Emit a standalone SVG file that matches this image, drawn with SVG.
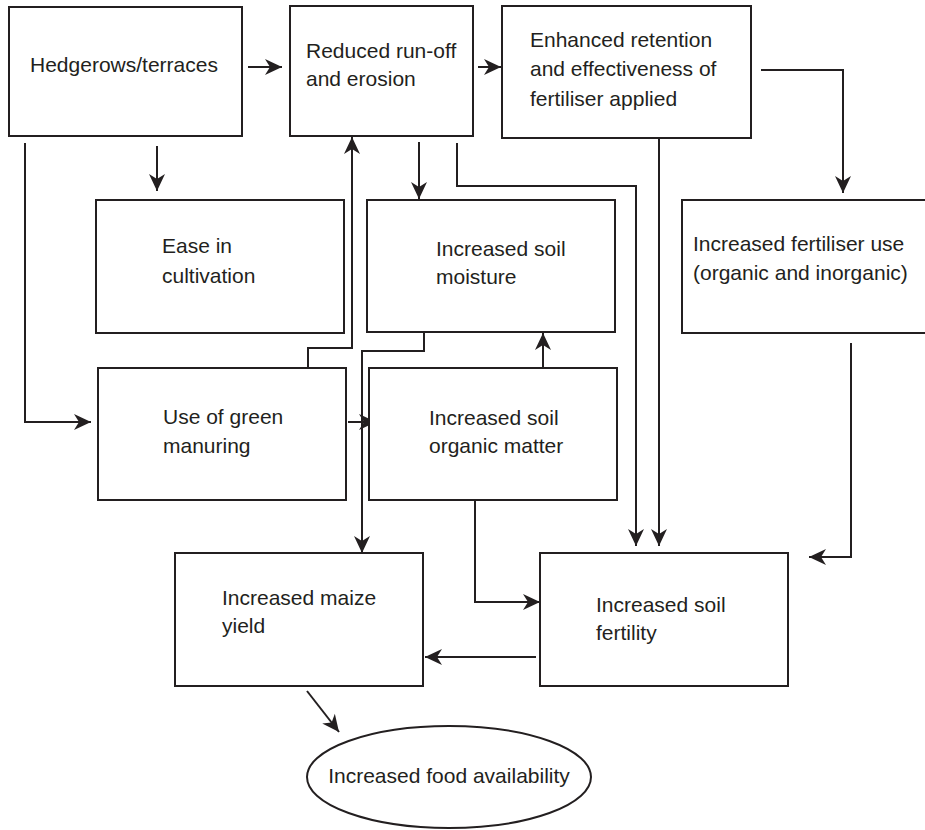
<svg xmlns="http://www.w3.org/2000/svg" width="925" height="830" viewBox="0 0 925 830">
  <style>
    .box { fill: #ffffff; stroke: #231f20; stroke-width: 2; }
    .lbl { font-family: "Liberation Sans", Arial, sans-serif; font-size: 21px; fill: #231f20; }
    .con { fill: none; stroke: #231f20; stroke-width: 2; }
  </style>
  <defs>
    <!-- barbed arrowhead, tip at the end of the line -->
    <marker id="ah" viewBox="-18 -9 20 18" refX="1" refY="0" markerWidth="20" markerHeight="18" orient="auto" markerUnits="userSpaceOnUse">
      <path d="M1,0 L-16,-8 L-11,0 L-16,8 Z" fill="#231f20"/>
    </marker>
  </defs>
  <rect width="925" height="830" fill="#ffffff"/>

  <g id="connectors">
    <!-- top row -->
    <line class="con" x1="248" y1="67" x2="282" y2="67" marker-end="url(#ah)"/>
    <line class="con" x1="478" y1="67" x2="501" y2="67" marker-end="url(#ah)"/>
    <path class="con" d="M761,70 H843 V193" marker-end="url(#ah)"/>
    <!-- hedgerows down -->
    <line class="con" x1="157" y1="146" x2="157" y2="191" marker-end="url(#ah)"/>
    <path class="con" d="M25,143 V422 H91" marker-end="url(#ah)"/>
    <!-- reduced run-off down -->
    <line class="con" x1="419" y1="142" x2="419" y2="199" marker-end="url(#ah)"/>
    <path class="con" d="M457,143 V186 H636 V546" marker-end="url(#ah)"/>
    <!-- enhanced retention down -->
    <line class="con" x1="659" y1="138" x2="659" y2="546" marker-end="url(#ah)"/>
    <!-- fertiliser use to soil fertility -->
    <path class="con" d="M851,343 V557 H809" marker-end="url(#ah)"/>
    <!-- green manuring -->
    <path class="con" d="M308,368 V348 H352 V137" marker-end="url(#ah)"/>
    <line class="con" x1="348" y1="422" x2="376" y2="422" marker-end="url(#ah)"/>
    <!-- organic matter -->
    <line class="con" x1="543" y1="368" x2="543" y2="333" marker-end="url(#ah)"/>
    <path class="con" d="M475,501 V602 H540" marker-end="url(#ah)"/>
    <!-- soil moisture to maize -->
    <path class="con" d="M424,333 V351 H362 V553" marker-end="url(#ah)"/>
    <!-- fertility to maize -->
    <line class="con" x1="536" y1="657" x2="425" y2="657" marker-end="url(#ah)"/>
    <!-- maize to food -->
    <line class="con" x1="307" y1="691" x2="339" y2="732" marker-end="url(#ah)"/>
  </g>

  <g id="hedgerows">
    <rect class="box" x="9" y="7" width="233" height="129"/>
    <text class="lbl" x="30" y="72">Hedgerows/terraces</text>
  </g>
  <g id="runoff">
    <rect class="box" x="290" y="6" width="183" height="130"/>
    <text class="lbl" x="306" y="58">Reduced run-off</text>
    <text class="lbl" x="306" y="86">and erosion</text>
  </g>
  <g id="retention">
    <rect class="box" x="502" y="6" width="249" height="132"/>
    <text class="lbl" x="530" y="47">Enhanced retention</text>
    <text class="lbl" x="530" y="76">and effectiveness of</text>
    <text class="lbl" x="530" y="106">fertiliser applied</text>
  </g>
  <g id="cultivation">
    <rect class="box" x="96" y="200" width="248" height="133"/>
    <text class="lbl" x="162" y="253">Ease in</text>
    <text class="lbl" x="162" y="283">cultivation</text>
  </g>
  <g id="moisture">
    <rect class="box" x="367" y="200" width="248" height="132"/>
    <text class="lbl" x="436" y="256">Increased soil</text>
    <text class="lbl" x="436" y="284">moisture</text>
  </g>
  <g id="fertiliser-use">
    <rect class="box" x="682" y="200" width="260" height="133"/>
    <text class="lbl" x="693" y="251">Increased fertiliser use</text>
    <text class="lbl" x="693" y="280">(organic and inorganic)</text>
  </g>
  <g id="green-manuring">
    <rect class="box" x="98" y="368" width="248" height="132"/>
    <text class="lbl" x="163" y="424">Use of green</text>
    <text class="lbl" x="163" y="453">manuring</text>
  </g>
  <g id="organic-matter">
    <rect class="box" x="369" y="368" width="248" height="132"/>
    <text class="lbl" x="429" y="425">Increased soil</text>
    <text class="lbl" x="429" y="453">organic matter</text>
  </g>
  <g id="maize">
    <rect class="box" x="175" y="553" width="248" height="133"/>
    <text class="lbl" x="222" y="605">Increased maize</text>
    <text class="lbl" x="222" y="633">yield</text>
  </g>
  <g id="fertility">
    <rect class="box" x="540" y="553" width="248" height="133"/>
    <text class="lbl" x="596" y="612">Increased soil</text>
    <text class="lbl" x="596" y="640">fertility</text>
  </g>
  <g id="food">
    <ellipse class="box" cx="449" cy="777" rx="142" ry="51"/>
    <text class="lbl" x="449" y="783" text-anchor="middle">Increased food availability</text>
  </g>
</svg>
